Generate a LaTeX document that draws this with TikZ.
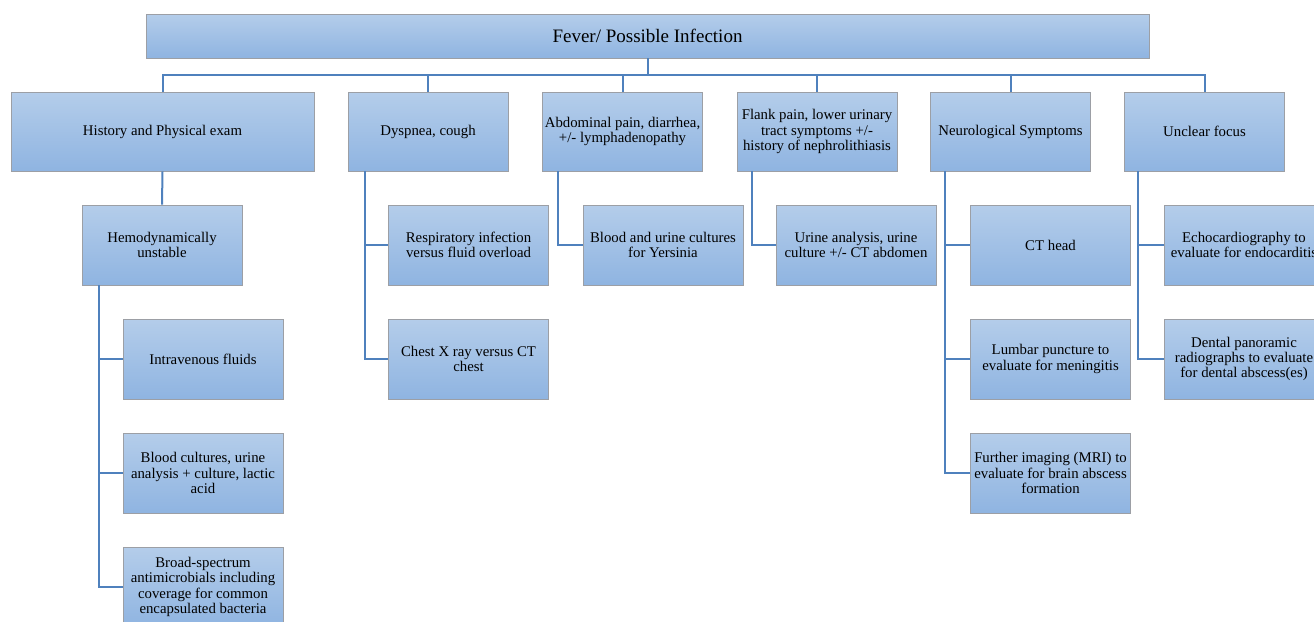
\documentclass[tikz,border=0pt]{standalone}
\usepackage{fontspec}
\setmainfont{Liberation Serif}
\definecolor{boxtop}{HTML}{B4CDEA}
\definecolor{boxbot}{HTML}{8FB4E1}
\definecolor{boxline}{HTML}{9C9FA5}
\definecolor{connc}{HTML}{4F81BD}
\tikzset{
  box/.style={draw=boxline, line width=0.9pt, top color=boxtop, bottom color=boxbot,
    inner sep=0pt, align=center, text=black,
    font=\rmfamily\fontsize{14.8}{15.3}\selectfont},
  wbox/.style={box, minimum width=160pt, minimum height=80pt},
  conn/.style={draw=connc, line width=2pt},
}
\begin{document}
\begin{tikzpicture}[x=1pt,y=-1pt]
\useasboundingbox (0,0) rectangle (1314,621);
\clip (0,0) rectangle (1314,621);
% top
\node[box, minimum width=1003pt, minimum height=44pt, font=\rmfamily\fontsize{19}{22}\selectfont] (top) at (647.5,36) {Fever/ Possible Infection};
% level 1
\node[box, minimum width=303pt, minimum height=79pt] (hp) at (162.5,131.5) {History and Physical exam};
\node[wbox, minimum height=79pt] (dys) at (428,131.5) {Dyspnea, cough};
\node[wbox, minimum height=79pt] (abd) at (622.5,131.5) {Abdominal pain, diarrhea,\\ +/- lymphadenopathy};
\node[wbox, minimum height=79pt] (flank) at (817,131.5) {Flank pain, lower urinary\\ tract symptoms +/-\\ history of nephrolithiasis};
\node[wbox, minimum height=79pt] (neuro) at (1010.5,131.5) {Neurological Symptoms};
\node[wbox, minimum height=79pt] (unclear) at (1204.5,131.5) {Unclear focus};
% level 2
\node[wbox] (hemo) at (162,245) {Hemodynamically\\ unstable};
\node[wbox] (resp) at (468.5,245) {Respiratory infection\\ versus fluid overload};
\node[wbox] (byer) at (663,245) {Blood and urine cultures\\ for Yersinia};
\node[wbox] (ua) at (856,245) {Urine analysis, urine\\ culture +/- CT abdomen};
\node[wbox] (cth) at (1050.5,245) {CT head};
\node[wbox] (echo) at (1244,245) {Echocardiography to\\ evaluate for endocarditis};
% level 3
\node[wbox] (iv) at (203,359) {Intravenous fluids};
\node[wbox] (bc) at (203,473) {Blood cultures, urine\\ analysis + culture, lactic\\ acid};
\node[wbox] (broad) at (203,587) {Broad-spectrum\\ antimicrobials including\\ coverage for common\\ encapsulated bacteria};
\node[wbox] (cxr) at (468.5,359) {Chest X ray versus CT\\ chest};
\node[wbox] (lp) at (1050.5,359) {Lumbar puncture to\\ evaluate for meningitis};
\node[wbox] (mri) at (1050.5,473) {Further imaging (MRI) to\\ evaluate for brain abscess\\ formation};
\node[wbox] (dent) at (1244,359) {Dental panoramic\\ radiographs to evaluate\\ for dental abscess(es)};
% connectors from top
\foreach \c in {hp,dys,abd,flank,neuro,unclear}
  \draw[conn] (top.south) -- ++(0,17) -| (\c.north);
\draw[conn] (hp.south) -- (hemo.north);
% branches
\foreach \c in {iv,bc,broad}
  \draw[conn] ([xshift=17pt]hemo.south west) |- (\c.west);
\foreach \c in {resp,cxr}
  \draw[conn] ([xshift=17pt]dys.south west) |- (\c.west);
\draw[conn] ([xshift=16pt]abd.south west) |- (byer.west);
\draw[conn] ([xshift=15pt]flank.south west) |- (ua.west);
\foreach \c in {cth,lp,mri}
  \draw[conn] ([xshift=15pt]neuro.south west) |- (\c.west);
\foreach \c in {echo,dent}
  \draw[conn] ([xshift=14pt]unclear.south west) |- (\c.west);
\end{tikzpicture}
\end{document}
